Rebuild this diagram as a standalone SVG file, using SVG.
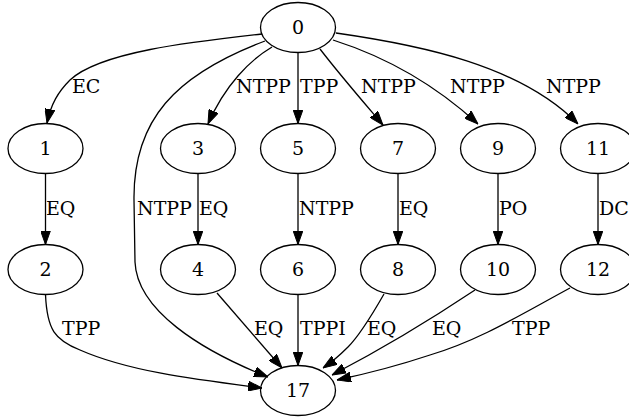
<svg xmlns="http://www.w3.org/2000/svg" width="629" height="417" viewBox="0 0 629 417">
<style>
.n ellipse{fill:none;stroke:#000;stroke-width:1.3}
.n text{font-family:"DejaVu Serif",serif;font-size:19px;text-anchor:middle;fill:#000}
.e path{fill:none;stroke:#000;stroke-width:1.3;marker-end:url(#a)}
.l text{font-family:"DejaVu Serif",serif;font-size:19px;fill:#000}
</style>
<defs>
<marker id="a" viewBox="0 0 14 10" refX="14" refY="5" markerWidth="14" markerHeight="10" markerUnits="userSpaceOnUse" orient="auto">
<path d="M0,0 L14,5 L0,10 Z" fill="#000" stroke="#000" stroke-width="1"/>
</marker>
</defs>
<rect width="629" height="417" fill="#fff"/>
<g id="edges" class="e">
<path d="M262,34 C190,42 100,52 70,80 C58,92 51,104 47,123"/>
<path d="M272,47 C250,60 225,85 208,124"/>
<path d="M298,52.5 L298,123.5"/>
<path d="M320,49 C340,75 360,98 383,125"/>
<path d="M333,40 C380,55 430,80 478,124"/>
<path d="M336,33 C420,45 520,65 578,124"/>
<path d="M265,41 C175,75 133,120 134,200 L135,262 C137,310 200,350 268,377"/>
<path d="M45.5,173.5 L45.5,244.5"/>
<path d="M198,173.5 L198,244.5"/>
<path d="M298,173.5 L298,244.5"/>
<path d="M398,173.5 L398,244.5"/>
<path d="M498,173.5 L498,244.5"/>
<path d="M598,173.5 L598,244.5"/>
<path d="M45.5,294.5 C47,330 55,340 80,350 C130,372 200,380 262,388"/>
<path d="M217,293 L282,368"/>
<path d="M298,294.5 L298,365.5"/>
<path d="M384,294 C372,315 360,335 348,347 C340,355 332,362 323,368"/>
<path d="M475,290 C430,320 380,350 332,375"/>
<path d="M570,288 C520,315 480,340 430,355 C400,365 370,373 337,380"/>
</g>
<g id="labels" class="l">
<text x="72" y="93">EC</text>
<text x="236" y="93">NTPP</text>
<text x="300" y="93">TPP</text>
<text x="361" y="93">NTPP</text>
<text x="450" y="93">NTPP</text>
<text x="546" y="93">NTPP</text>
<text x="46" y="215">EQ</text>
<text x="137" y="215">NTPP</text>
<text x="199" y="215">EQ</text>
<text x="299" y="215">NTPP</text>
<text x="399" y="215">EQ</text>
<text x="499" y="215">PO</text>
<text x="599" y="215">DC</text>
<text x="62" y="335">TPP</text>
<text x="254" y="335">EQ</text>
<text x="300" y="335">TPPI</text>
<text x="367" y="335">EQ</text>
<text x="432" y="335">EQ</text>
<text x="512" y="335">TPP</text>
</g>
<g id="n0" class="n"><ellipse cx="298" cy="27.5" rx="37.5" ry="25"/><text x="298" y="34">0</text></g>
<g id="n1" class="n"><ellipse cx="45.5" cy="148.5" rx="37.5" ry="25"/><text x="45.5" y="155">1</text></g>
<g id="n3" class="n"><ellipse cx="198" cy="148.5" rx="37.5" ry="25"/><text x="198" y="155">3</text></g>
<g id="n5" class="n"><ellipse cx="298" cy="148.5" rx="37.5" ry="25"/><text x="298" y="155">5</text></g>
<g id="n7" class="n"><ellipse cx="398" cy="148.5" rx="37.5" ry="25"/><text x="398" y="155">7</text></g>
<g id="n9" class="n"><ellipse cx="498" cy="148.5" rx="37.5" ry="25"/><text x="498" y="155">9</text></g>
<g id="n11" class="n"><ellipse cx="598" cy="148.5" rx="37.5" ry="25"/><text x="598" y="155">11</text></g>
<g id="n2" class="n"><ellipse cx="45.5" cy="269.5" rx="37.5" ry="25"/><text x="45.5" y="276">2</text></g>
<g id="n4" class="n"><ellipse cx="198" cy="269.5" rx="37.5" ry="25"/><text x="198" y="276">4</text></g>
<g id="n6" class="n"><ellipse cx="298" cy="269.5" rx="37.5" ry="25"/><text x="298" y="276">6</text></g>
<g id="n8" class="n"><ellipse cx="398" cy="269.5" rx="37.5" ry="25"/><text x="398" y="276">8</text></g>
<g id="n10" class="n"><ellipse cx="498" cy="269.5" rx="37.5" ry="25"/><text x="498" y="276">10</text></g>
<g id="n12" class="n"><ellipse cx="598" cy="269.5" rx="37.5" ry="25"/><text x="598" y="276">12</text></g>
<g id="n17" class="n"><ellipse cx="298" cy="390.5" rx="37.5" ry="25"/><text x="298" y="397">17</text></g>
</svg>
